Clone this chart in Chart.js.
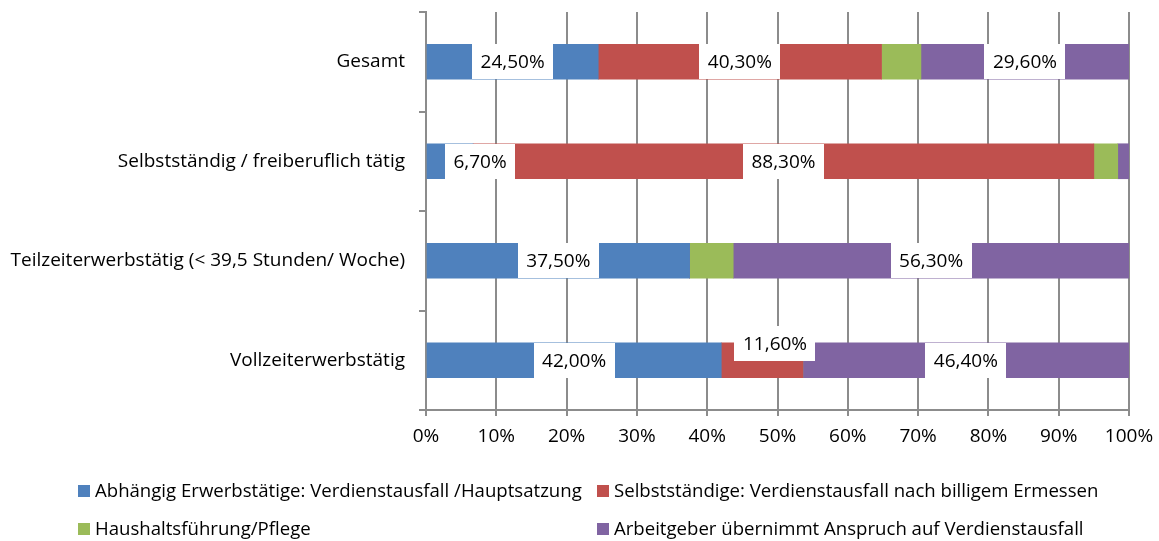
<!DOCTYPE html>
<html>
<head>
<meta charset="utf-8">
<script src="https://cdn.jsdelivr.net/npm/chart.js@4/dist/chart.umd.min.js"></script>
<style>
  html, body { margin: 0; padding: 0; background: #ffffff; }
  #wrap { position: relative; width: 1159px; height: 541px; overflow: hidden; }
  #c { position: absolute; left: 0; top: 0; }
  .leg { position: absolute; font-family: "Open Sans", sans-serif; font-size: 18.6px; color: #000; white-space: nowrap; line-height: 22px; }
  .leg .sw { display: inline-block; width: 12px; height: 12px; margin-right: 5px; vertical-align: 0px; }
</style>
</head>
<body>
<div id="wrap">
  <canvas id="c" width="1159" height="541"></canvas>
  <div id="legend"></div>
</div>
<script>
const categories = [
  "Gesamt",
  "Selbstständig / freiberuflich tätig",
  "Teilzeiterwerbstätig (< 39,5 Stunden/ Woche)",
  "Vollzeiterwerbstätig"
];
const seriesNames = [
  "Abhängig Erwerbstätige: Verdienstausfall /Hauptsatzung",
  "Selbstständige: Verdienstausfall nach billigem Ermessen",
  "Haushaltsführung/Pflege",
  "Arbeitgeber übernimmt Anspruch auf Verdienstausfall"
];
const abhaengig = [24.5, 6.7, 37.5, 42.0];
const selbststaendige = [40.3, 88.3, 0, 11.6];
const haushalt = [5.6, 3.4, 6.2, 0];
const arbeitgeber = [29.6, 1.6, 56.3, 46.4];
const xTicks = [0, 10, 20, 30, 40, 50, 60, 70, 80, 90, 100];
const colors = ["#4F81BD", "#C0504D", "#9BBB59", "#8064A2"];
// which points carry a value label (dataset index -> category indices)
const labelled = { 0: [0, 1, 2, 3], 1: [0, 1, 3], 2: [], 3: [0, 2, 3] };

const FONT = '"Open Sans", sans-serif';

const labelPlugin = {
  id: 'boxLabels',
  afterDatasetsDraw(chart, args, opts) {
    const ctx = chart.ctx;
    ctx.save();
    ctx.font = opts.size + 'px ' + FONT;
    ctx.textAlign = 'center';
    ctx.textBaseline = 'middle';
    chart.data.datasets.forEach((ds, di) => {
      const meta = chart.getDatasetMeta(di);
      const list = labelled[di] || [];
      list.forEach(i => {
        const el = meta.data[i];
        const v = ds.data[i];
        if (!el || !v) return;
        const txt = v.toFixed(2).replace('.', ',') + '%';
        const w = ctx.measureText(txt).width + 2 * opts.padX;
        const h = el.height;
        let cx = (el.x + el.base) / 2;
        let cy = el.y;
        const off = (opts.offsets || []).find(o => o.ds === di && o.idx === i);
        if (off) { cx += off.dx || 0; cy += off.dy || 0; }
        ctx.fillStyle = '#ffffff';
        ctx.fillRect(Math.round(cx - w / 2), Math.round(cy - h / 2), Math.round(w), Math.round(h));
        ctx.fillStyle = '#000000';
        ctx.fillText(txt, cx, cy + 1);
      });
    });
    ctx.restore();
  }
};

const chart = new Chart(document.getElementById('c'), {
  type: 'bar',
  data: {
    labels: categories,
    datasets: [abhaengig, selbststaendige, haushalt, arbeitgeber].map((d, i) => ({
      label: seriesNames[i],
      data: d,
      backgroundColor: colors[i],
      borderWidth: 0,
      barThickness: 35
    }))
  },
  options: {
    indexAxis: 'y',
    responsive: false,
    animation: false,
    devicePixelRatio: 1,
    layout: { padding: { left: 0, right: 30, top: 12, bottom: 91 } },
    plugins: {
      legend: { display: false },
      tooltip: { enabled: false },
      boxLabels: {
        size: 19,
        padX: 8.5,
        offsets: [ { ds: 0, idx: 1, dx: 30 }, { ds: 1, idx: 3, dx: 13, dy: -17 } ]
      }
    },
    scales: {
      x: {
        stacked: true,
        min: 0, max: 100,
        afterBuildTicks(scale) { scale.ticks = xTicks.map(v => ({ value: v })); },
        afterFit(scale) { scale.height = 40; scale.paddingLeft = 0; scale.paddingRight = 0; },
        ticks: {
          callback: v => v + '%',
          color: '#000',
          font: { family: FONT, size: 19 },
          padding: 9,
          maxRotation: 0
        },
        grid: { color: '#8C8C8C', lineWidth: 2, tickLength: 6, drawTicks: true },
        border: { color: '#8C8C8C', width: 2 }
      },
      y: {
        stacked: true,
        afterFit(scale) { scale.width = 426; scale.paddingTop = 0; scale.paddingBottom = 0; },
        ticks: {
          color: '#000',
          font: { family: FONT, size: 19 },
          padding: 14
        },
        grid: { offset: true, drawOnChartArea: false, color: '#8C8C8C', lineWidth: 2, tickLength: 7 },
        border: { color: '#8C8C8C', width: 2 }
      }
    }
  },
  plugins: [labelPlugin]
});

// HTML legend in two columns
const legend = document.getElementById('legend');
const legPos = [ [78, 479], [597, 479], [78, 517], [597, 517] ];
seriesNames.forEach((name, i) => {
  const d = document.createElement('div');
  d.className = 'leg';
  d.style.left = legPos[i][0] + 'px';
  d.style.top = legPos[i][1] + 'px';
  const sw = document.createElement('span');
  sw.className = 'sw';
  sw.style.background = colors[i];
  d.appendChild(sw);
  d.appendChild(document.createTextNode(name));
  legend.appendChild(d);
});
</script>
</body>
</html>
